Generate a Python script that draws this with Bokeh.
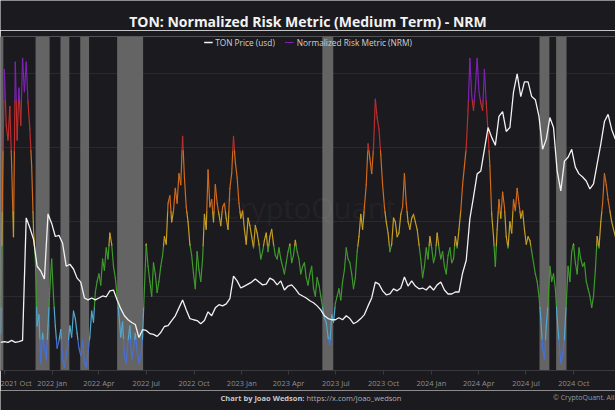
import numpy as np
import pandas as pd
from bokeh.plotting import figure
from bokeh.layouts import column
from bokeh.models import (Range1d, FixedTicker, DatetimeTickFormatter, BoxAnnotation,
                          Label, Legend, LegendItem, ColumnDataSource, Grid)
from bokeh.embed import file_html
from bokeh.resources import INLINE

# ---------------- data ----------------
series_start = "2021-09-24"

# TON price (usd), one value per week
ton_price = [
    0.71, 0.73, 0.71, 0.76, 0.71, 0.73, 0.76, 3.85, 3.60, 3.31,
    2.63, 2.51, 2.31, 3.95, 3.71, 3.38, 3.41, 3.21, 2.63, 2.68,
    2.56, 2.33, 2.23, 1.83, 1.78, 1.83, 1.78, 1.83, 1.88, 1.86,
    2.01, 2.03, 1.78, 1.56, 1.38, 1.28, 1.21, 1.16, 0.83, 1.03,
    1.01, 0.93, 0.91, 0.86, 0.96, 1.11, 1.13, 1.26, 1.38, 1.58,
    1.78, 1.53, 1.31, 1.28, 1.26, 1.18, 1.26, 1.48, 1.38, 1.58,
    1.66, 1.63, 1.68, 1.81, 2.38, 2.26, 2.08, 2.13, 2.18, 2.23,
    2.31, 2.23, 2.16, 2.18, 2.33, 2.28, 2.16, 2.26, 2.03, 2.13,
    2.16, 2.06, 1.93, 1.88, 1.83, 1.76, 1.71, 1.63, 1.53, 1.38,
    1.31, 1.28, 1.28, 1.33, 1.28, 1.38, 1.31, 1.18, 1.23, 1.31,
    1.41, 1.63, 1.83, 2.23, 2.18, 2.01, 1.91, 1.93, 2.06, 2.01,
    2.08, 2.36, 2.13, 2.26, 2.13, 2.06, 2.08, 2.03, 2.13, 2.03,
    2.16, 2.23, 2.03, 1.93, 1.93, 1.98, 1.98, 2.46, 2.78, 3.83,
    4.38, 4.96, 5.03, 5.58, 6.13, 5.88, 5.68, 6.41, 6.53, 6.03,
    6.13, 7.03, 7.48, 6.91, 7.28, 7.28, 6.91, 6.83, 6.41, 5.58,
    5.83, 6.38, 6.13, 5.03, 4.53, 5.28, 5.38, 5.58, 5.13, 4.96,
    4.88, 4.78, 4.58, 4.71, 5.21, 5.71, 6.28, 6.46, 6.08, 5.83,
]

# Normalized Risk Metric, two values per week
nrm = [
    0.10, 0.50, 0.81, 0.66, 0.62, 0.71, 0.55, 0.36, 0.83, 0.62, 0.76, 0.66, 0.84, 0.75, 0.83, 0.72, 0.65, 0.55, 0.38, 0.30,
    0.12, 0.15, 0.02, 0.10, 0.06, 0.03, 0.12, 0.22, 0.30, 0.20, 0.12, 0.06, 0.08, 0.11, 0.03, 0.01, 0.04, 0.07, 0.12, 0.09,
    0.16, 0.14, 0.10, 0.06, 0.04, 0.08, 0.02, 0.01, 0.05, 0.09, 0.16, 0.13, 0.21, 0.24, 0.26, 0.23, 0.30, 0.27, 0.33, 0.30,
    0.37, 0.34, 0.28, 0.25, 0.20, 0.15, 0.09, 0.13, 0.04, 0.02, 0.08, 0.12, 0.03, 0.06, 0.10, 0.05, 0.02, 0.04, 0.09, 0.22,
    0.34, 0.28, 0.24, 0.20, 0.29, 0.26, 0.21, 0.24, 0.28, 0.31, 0.36, 0.34, 0.45, 0.47, 0.40, 0.43, 0.49, 0.45, 0.53, 0.50,
    0.63, 0.52, 0.44, 0.40, 0.34, 0.31, 0.26, 0.22, 0.32, 0.27, 0.24, 0.30, 0.42, 0.38, 0.54, 0.44, 0.46, 0.40, 0.50, 0.45,
    0.42, 0.39, 0.44, 0.45, 0.41, 0.38, 0.49, 0.53, 0.63, 0.56, 0.52, 0.45, 0.41, 0.43, 0.38, 0.34, 0.41, 0.39, 0.36, 0.33,
    0.39, 0.37, 0.34, 0.30, 0.32, 0.35, 0.37, 0.32, 0.36, 0.38, 0.34, 0.31, 0.30, 0.33, 0.30, 0.28, 0.26, 0.29, 0.32, 0.34,
    0.29, 0.31, 0.35, 0.32, 0.30, 0.26, 0.28, 0.29, 0.25, 0.23, 0.26, 0.28, 0.22, 0.20, 0.25, 0.23, 0.20, 0.17, 0.14, 0.13,
    0.09, 0.07, 0.15, 0.13, 0.18, 0.20, 0.22, 0.19, 0.24, 0.27, 0.33, 0.30, 0.29, 0.26, 0.22, 0.25, 0.32, 0.36, 0.42, 0.38,
    0.44, 0.50, 0.61, 0.57, 0.53, 0.60, 0.73, 0.68, 0.65, 0.58, 0.50, 0.44, 0.40, 0.37, 0.32, 0.34, 0.41, 0.40, 0.36, 0.37,
    0.42, 0.44, 0.53, 0.45, 0.40, 0.38, 0.41, 0.42, 0.40, 0.38, 0.34, 0.30, 0.25, 0.28, 0.33, 0.30, 0.36, 0.33, 0.29, 0.31,
    0.37, 0.33, 0.30, 0.32, 0.28, 0.26, 0.31, 0.33, 0.29, 0.30, 0.36, 0.33, 0.38, 0.43, 0.50, 0.55, 0.60, 0.70, 0.84, 0.74,
    0.70, 0.76, 0.84, 0.75, 0.72, 0.70, 0.81, 0.72, 0.64, 0.55, 0.42, 0.36, 0.28, 0.38, 0.46, 0.41, 0.48, 0.44, 0.36, 0.33,
    0.40, 0.37, 0.46, 0.43, 0.49, 0.45, 0.41, 0.43, 0.38, 0.34, 0.36, 0.35, 0.32, 0.29, 0.26, 0.24, 0.20, 0.14, 0.06, 0.03,
    0.12, 0.18, 0.28, 0.24, 0.26, 0.22, 0.14, 0.08, 0.02, 0.04, 0.09, 0.18, 0.28, 0.24, 0.32, 0.34, 0.29, 0.26, 0.33, 0.30,
    0.28, 0.29, 0.24, 0.22, 0.20, 0.17, 0.20, 0.27, 0.36, 0.33, 0.40, 0.45, 0.53, 0.50, 0.46, 0.43, 0.40, 0.38, 0.36,
]

# shaded low-risk periods
band_start = ["2021-09-23", "2021-11-30", "2022-01-17", "2022-02-24",
              "2022-05-06", "2023-06-05", "2024-07-27", "2024-08-28"]
band_end = ["2021-09-29", "2021-12-27", "2022-02-03", "2022-03-13",
            "2022-06-25", "2023-06-26", "2024-08-15", "2024-09-17"]

# risk zones (NRM thresholds) and their colours, low -> high
nrm_levels = [0.084, 0.17, 0.336, 0.427, 0.591, 0.726]
nrm_colors = ["#4870d4", "#52a8cf", "#3f9a2c", "#c49f24", "#d06a1c", "#b92f2f", "#7d22b3"]

tick_dates = ["2021-10-01", "2022-01-01", "2022-04-01", "2022-07-01", "2022-10-01",
              "2023-01-01", "2023-04-01", "2023-07-01", "2023-10-01", "2024-01-01",
              "2024-04-01", "2024-07-01", "2024-10-01", "2025-01-01"]

# ---------------- styling ----------------
BG = "#1b1a1f"
FONT = "Open Sans"
W = 615

def ms(s):
    return pd.Timestamp(s).value / 1e6

price_dates = pd.date_range(series_start, periods=len(ton_price), freq="7D")
nrm_dates = pd.date_range(series_start, periods=len(nrm), freq="84h")
t = [d.value / 1e6 for d in nrm_dates]

# split the NRM line at the zone thresholds so each piece gets its zone colour
x0s, y0s, x1s, y1s, cols = [], [], [], [], []
for i in range(len(nrm) - 1):
    xa, ya, xb, yb = t[i], nrm[i], t[i + 1], nrm[i + 1]
    cuts = sorted([l for l in nrm_levels if min(ya, yb) < l < max(ya, yb)], reverse=(yb < ya))
    pts = [(xa, ya)] + [(xa + (l - ya) / (yb - ya) * (xb - xa), l) for l in cuts] + [(xb, yb)]
    for (p0, q0), (p1, q1) in zip(pts[:-1], pts[1:]):
        mid = (q0 + q1) / 2
        zone = sum(mid > l for l in nrm_levels)
        x0s.append(p0); y0s.append(q0); x1s.append(p1); y1s.append(q1)
        cols.append(nrm_colors[zone])
seg_src = ColumnDataSource(dict(x0=x0s, y0=y0s, x1=x1s, y1=y1s, color=cols))


def text_strip(height):
    f = figure(width=W, height=height, x_range=Range1d(0, W), y_range=Range1d(0, height),
               x_axis_location=None, y_axis_location=None, title=None,
               output_backend="svg", toolbar_location=None, min_border=0,
               background_fill_color=BG, border_fill_color=BG, outline_line_color=None)
    f.grid.visible = False
    return f

# header with the title
header = text_strip(30)
header.add_layout(Label(x=307.5, y=9, text="TON: Normalized Risk Metric (Medium Term) - NRM",
                        text_align="center", text_baseline="middle", text_font=FONT,
                        text_font_style="bold", text_font_size="14px", text_color="#f2f2f2"))

# main chart
p = figure(width=W, height=360, x_axis_type="datetime",
           x_range=Range1d(ms("2021-09-23 12:00"), ms("2024-12-20 07:00")),
           y_range=Range1d(0, 0.8987), y_axis_location=None, title=None,
           output_backend="svg", toolbar_location=None,
           min_border_left=0, min_border_right=0, min_border_top=6, min_border_bottom=17,
           background_fill_color=BG, border_fill_color=BG, outline_line_color=None)
p.extra_y_ranges = {"price": Range1d(0, 8.425)}

p.xgrid.visible = False
p.add_layout(Grid(dimension=1, ticker=FixedTicker(ticks=[0.2, 0.4, 0.6, 0.8]),
                  grid_line_color="#2a2930", grid_line_width=1))

for s, e in zip(band_start, band_end):
    p.add_layout(BoxAnnotation(left=ms(s), right=ms(e), fill_color="#646464", fill_alpha=1.0,
                               line_color=None, level="underlay"))

p.add_layout(Label(x=308, y=163, x_units="screen", y_units="screen", text="CryptoQuant",
                   text_align="center", text_baseline="middle", text_font=FONT,
                   text_font_size="29px", text_color="#ffffff", text_alpha=0.05,
                   level="underlay"))

seg = p.segment(x0="x0", y0="y0", x1="x1", y1="y1", line_color="color", line_width=1.2,
                line_cap="round", source=seg_src)
price = p.line(price_dates, ton_price, y_range_name="price", line_color="#f2f2f2", line_width=1.3)

ax = p.xaxis[0]
ax.ticker = FixedTicker(ticks=[ms(d) for d in tick_dates])
ax.formatter = DatetimeTickFormatter(days="%Y %b", months="%Y %b", years="%Y %b")
ax.axis_line_color = "#3a3940"
ax.major_tick_line_color = "#3a3940"
ax.major_tick_out = 4
ax.major_tick_in = 0
ax.minor_tick_line_color = None
ax.major_label_standoff = 3
ax.major_label_text_color = "#8e8e8e"
ax.major_label_text_font = FONT
ax.major_label_text_font_size = "7.5px"

purple_idx = cols.index(nrm_colors[-1])
legend = Legend(items=[LegendItem(label="TON Price (usd)", renderers=[price]),
                       LegendItem(label="Normalized Risk Metric (NRM)", renderers=[seg], index=purple_idx)],
                orientation="horizontal", location="top_center",
                background_fill_alpha=0, border_line_alpha=0, padding=0, margin=0,
                spacing=10, label_standoff=3, glyph_width=9, glyph_height=10, label_height=12,
                label_text_color="#d0d0d0", label_text_font=FONT, label_text_font_size="8.3px")
p.add_layout(legend)

# footer
footer = text_strip(20)
footer.add_layout(Label(x=304, y=13, text="Chart by Joao Wedson:", text_align="right",
                        text_baseline="middle", text_font=FONT, text_font_style="bold",
                        text_font_size="7.5px", text_color="#c8c8c8"))
footer.add_layout(Label(x=306, y=13, text="https://x.com/joao_wedson", text_align="left",
                        text_baseline="middle", text_font=FONT,
                        text_font_size="7.5px", text_color="#b0b0b0"))
footer.add_layout(Label(x=614, y=13, text="© CryptoQuant. All", text_align="right",
                        text_baseline="middle", text_font=FONT,
                        text_font_size="7px", text_color="#9a9a9a"))

layout = column(header, p, footer, spacing=0)
open("out.html", "w").write(file_html(layout, INLINE))
